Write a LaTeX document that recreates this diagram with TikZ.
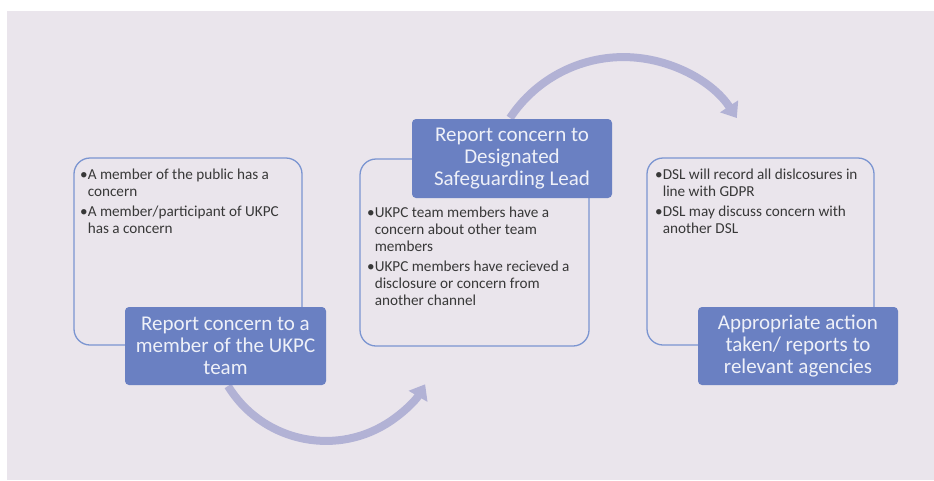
\documentclass[tikz,border=0pt]{standalone}
\usepackage{fontspec}
\setmainfont{Carlito}
\usetikzlibrary{arrows.meta}
\definecolor{pagebg}{HTML}{EAE5EC}
\definecolor{leadfill}{HTML}{6A80C2}
\definecolor{leadtext}{HTML}{EEF0F8}
\definecolor{frameline}{HTML}{7B95D1}
\definecolor{flowline}{HTML}{B2B2D5}
\definecolor{bodytext}{HTML}{383838}
% bullet followed by a top-aligned block of wrapped lines
\newcommand{\bulletitem}[1]{\textbullet\begin{tabular}[t]{@{}l@{}}#1\end{tabular}}
\begin{document}
\begin{tikzpicture}[x=1pt,y=-1pt,
  frame/.style={draw=frameline, line width=1.3pt, rounded corners=16pt, fill=pagebg},
  lead/.style={fill=leadfill, rounded corners=4pt, text=leadtext, align=center,
    font=\fontsize{21}{22}\selectfont, inner sep=0pt},
  body/.style={text=bodytext, align=left, anchor=north west, inner sep=0pt,
    font=\fontsize{15.2}{17}\selectfont},
  flow/.style={draw=flowline, line width=8pt, -{Triangle[width=21pt,length=14pt]}}]
\useasboundingbox (0,0) rectangle (934,480);
\fill[white] (0,0) rectangle (934,480);
\fill[pagebg] (7,11) rectangle (934,480);

% curved flow arrows between the stages
\coordinate (a1s) at (228,386);
\coordinate (a2s) at (510,118);
\draw[flow] (a1s) arc[start angle=148.5, end angle=30.5, radius=115];
\draw[flow] (a2s) arc[start angle=213.5, end angle=326.5, radius=136];

% stage frames
\node[frame, minimum width=228, minimum height=187] (f1) at (188,251.5) {};
\node[frame, minimum width=229, minimum height=187] (f2) at (474.5,252.5) {};
\node[frame, minimum width=227, minimum height=187] (f3) at (760.5,251.5) {};

% stage details
\node[body] (t1) at (80,167) {%
  \bulletitem{A member of the public has a\\concern}\\[2.5pt]
  \bulletitem{A member/participant of UKPC\\has a concern}};
\node[body] (t2) at (367,205) {%
  \bulletitem{UKPC team members have a\\concern about other team\\members}\\[2.5pt]
  \bulletitem{UKPC members have recieved a\\disclosure or concern from\\another channel}};
\node[body] (t3) at (655,167) {%
  \bulletitem{DSL will record all dislcosures in\\line with GDPR}\\[2.5pt]
  \bulletitem{DSL may discuss concern with\\another DSL}};

% stage headings
\node[lead, minimum width=201, minimum height=78] (h1) at (225.5,346)
  {Report concern to a\\member of the UKPC\\team};
\node[lead, minimum width=200, minimum height=79] (h2) at (512,158.5)
  {Report concern to\\Designated\\Safeguarding Lead};
\node[lead, minimum width=200, minimum height=78] (h3) at (798,346)
  {Appropriate action\\taken/ reports to\\relevant agencies};
\end{tikzpicture}
\end{document}
